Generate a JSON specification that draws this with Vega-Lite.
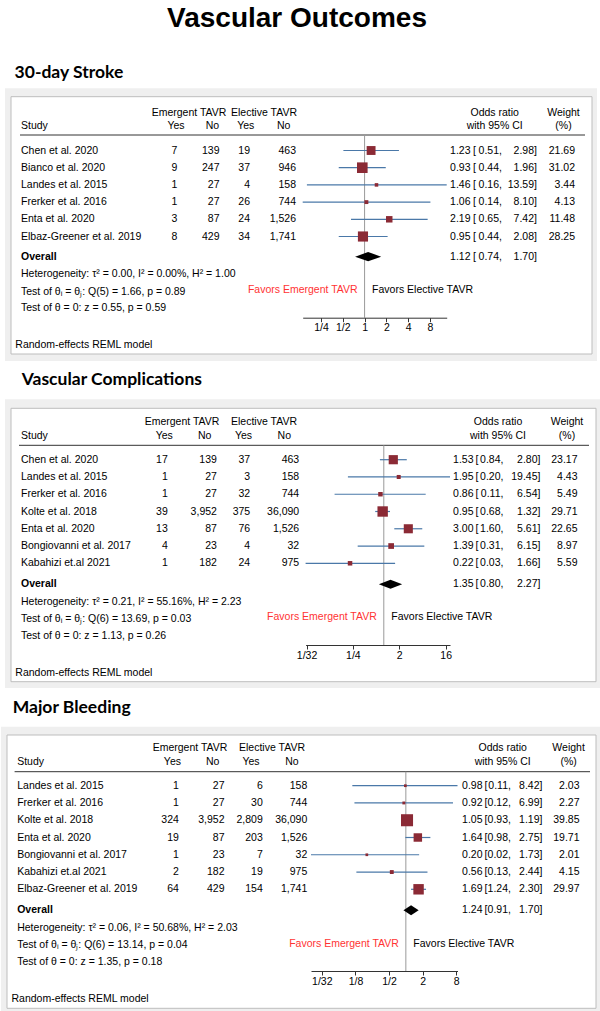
{
"$schema":"https://vega.github.io/schema/vega-lite/v6.json",
"padding":0,"autosize":{"type":"pad"},"background":"white","spacing":0,
"config":{"view":{"stroke":null},"text":{"font":"Liberation Sans","fontSize":10.5,"baseline":"middle","color":"#000000"}},
"datasets":{
"one":[{}],
"s1":[
{"study":"Chen et al. 2020","ey":7,"en":139,"cy":19,"cn":463,"or":1.23,"lo":0.51,"hi":2.98,"w":21.69},
{"study":"Bianco et al. 2020","ey":9,"en":247,"cy":37,"cn":946,"or":0.93,"lo":0.44,"hi":1.96,"w":31.02},
{"study":"Landes et al. 2015","ey":1,"en":27,"cy":4,"cn":158,"or":1.46,"lo":0.16,"hi":13.59,"w":3.44},
{"study":"Frerker et al. 2016","ey":1,"en":27,"cy":26,"cn":744,"or":1.06,"lo":0.14,"hi":8.10,"w":4.13},
{"study":"Enta et al. 2020","ey":3,"en":87,"cy":24,"cn":1526,"or":2.19,"lo":0.65,"hi":7.42,"w":11.48},
{"study":"Elbaz-Greener et al. 2019","ey":8,"en":429,"cy":34,"cn":1741,"or":0.95,"lo":0.44,"hi":2.08,"w":28.25}],
"o1":[{"or":1.12,"lo":0.74,"hi":1.70}],
"s2":[
{"study":"Chen et al. 2020","ey":17,"en":139,"cy":37,"cn":463,"or":1.53,"lo":0.84,"hi":2.80,"w":23.17},
{"study":"Landes et al. 2015","ey":1,"en":27,"cy":3,"cn":158,"or":1.95,"lo":0.20,"hi":19.45,"w":4.43},
{"study":"Frerker et al. 2016","ey":1,"en":27,"cy":32,"cn":744,"or":0.86,"lo":0.11,"hi":6.54,"w":5.49},
{"study":"Kolte et al. 2018","ey":39,"en":3952,"cy":375,"cn":36090,"or":0.95,"lo":0.68,"hi":1.32,"w":29.71},
{"study":"Enta et al. 2020","ey":13,"en":87,"cy":76,"cn":1526,"or":3.00,"lo":1.60,"hi":5.61,"w":22.65},
{"study":"Bongiovanni et al. 2017","ey":4,"en":23,"cy":4,"cn":32,"or":1.39,"lo":0.31,"hi":6.15,"w":8.97},
{"study":"Kabahizi et.al 2021","ey":1,"en":182,"cy":24,"cn":975,"or":0.22,"lo":0.03,"hi":1.66,"w":5.59}],
"o2":[{"or":1.35,"lo":0.80,"hi":2.27}],
"s3":[
{"study":"Landes et al. 2015","ey":1,"en":27,"cy":6,"cn":158,"or":0.98,"lo":0.11,"hi":8.42,"w":2.03},
{"study":"Frerker et al. 2016","ey":1,"en":27,"cy":30,"cn":744,"or":0.92,"lo":0.12,"hi":6.99,"w":2.27},
{"study":"Kolte et al. 2018","ey":324,"en":3952,"cy":2809,"cn":36090,"or":1.05,"lo":0.93,"hi":1.19,"w":39.85},
{"study":"Enta et al. 2020","ey":19,"en":87,"cy":203,"cn":1526,"or":1.64,"lo":0.98,"hi":2.75,"w":19.71},
{"study":"Bongiovanni et al. 2017","ey":1,"en":23,"cy":7,"cn":32,"or":0.20,"lo":0.02,"hi":1.73,"w":2.01},
{"study":"Kabahizi et.al 2021","ey":2,"en":182,"cy":19,"cn":975,"or":0.56,"lo":0.13,"hi":2.44,"w":4.15},
{"study":"Elbaz-Greener et al. 2019","ey":64,"en":429,"cy":154,"cn":1741,"or":1.69,"lo":1.24,"hi":2.30,"w":29.97}],
"o3":[{"or":1.24,"lo":0.91,"hi":1.70}]
},
"vconcat":[
{
"width":600,"height":361,
"resolve":{"scale":{"x":"independent","y":"independent"}},
"layer":[
{"data":{"name":"one"},"layer":[
{"mark":{"type":"rect","fill":"#efefef"},"encoding":{"x":{"datum":5,"type":"quantitative","scale":{"type":"linear","domain":[0,600],"range":[0,600],"nice":false,"zero":false},"axis":null},"x2":{"datum":597},"y":{"datum":88.3,"type":"quantitative","scale":{"type":"linear","domain":[0,361],"range":[0,361],"nice":false,"zero":false},"axis":null},"y2":{"datum":361}}},
{"mark":{"type":"rect","fill":"#ffffff","stroke":"#bdbdbd","strokeWidth":1},"encoding":{"x":{"datum":11,"type":"quantitative","axis":null},"x2":{"datum":592},"y":{"datum":96.7,"type":"quantitative","axis":null},"y2":{"datum":354}}},
{"mark":{"type":"text","text":"Vascular Outcomes","align":"center","baseline":"alphabetic","fontSize":28,"fontWeight":"bold","font":"Liberation Sans"},"encoding":{"x":{"datum":297,"type":"quantitative","axis":null},"y":{"datum":26.7,"type":"quantitative","axis":null}}},
{"mark":{"type":"text","text":"30-day Stroke","align":"left","baseline":"alphabetic","fontSize":17.5,"fontWeight":"bold","font":"Lato"},"encoding":{"x":{"datum":14.6,"type":"quantitative","axis":null},"y":{"datum":77.7,"type":"quantitative","axis":null}}},
{"mark":{"type":"text","text":"Emergent TAVR","align":"center"},"encoding":{"x":{"datum":189,"type":"quantitative","axis":null},"y":{"datum":112.7,"type":"quantitative","axis":null}}},
{"mark":{"type":"text","text":"Elective TAVR","align":"center"},"encoding":{"x":{"datum":264,"type":"quantitative","axis":null},"y":{"datum":112.7,"type":"quantitative","axis":null}}},
{"mark":{"type":"text","text":"Odds ratio","align":"center"},"encoding":{"x":{"datum":494.7,"type":"quantitative","axis":null},"y":{"datum":112.7,"type":"quantitative","axis":null}}},
{"mark":{"type":"text","text":"Weight","align":"center"},"encoding":{"x":{"datum":563.5,"type":"quantitative","axis":null},"y":{"datum":112.7,"type":"quantitative","axis":null}}},
{"mark":{"type":"text","text":"Study","align":"left"},"encoding":{"x":{"datum":21,"type":"quantitative","axis":null},"y":{"datum":126,"type":"quantitative","axis":null}}},
{"mark":{"type":"text","text":"Yes","align":"center"},"encoding":{"x":{"datum":176,"type":"quantitative","axis":null},"y":{"datum":126,"type":"quantitative","axis":null}}},
{"mark":{"type":"text","text":"No","align":"center"},"encoding":{"x":{"datum":212.5,"type":"quantitative","axis":null},"y":{"datum":126,"type":"quantitative","axis":null}}},
{"mark":{"type":"text","text":"Yes","align":"center"},"encoding":{"x":{"datum":245.8,"type":"quantitative","axis":null},"y":{"datum":126,"type":"quantitative","axis":null}}},
{"mark":{"type":"text","text":"No","align":"center"},"encoding":{"x":{"datum":283.7,"type":"quantitative","axis":null},"y":{"datum":126,"type":"quantitative","axis":null}}},
{"mark":{"type":"text","text":"with 95% CI","align":"center"},"encoding":{"x":{"datum":494.7,"type":"quantitative","axis":null},"y":{"datum":126,"type":"quantitative","axis":null}}},
{"mark":{"type":"text","text":"(%)","align":"center"},"encoding":{"x":{"datum":563.5,"type":"quantitative","axis":null},"y":{"datum":126,"type":"quantitative","axis":null}}},
{"mark":{"type":"rule","color":"#333333","strokeWidth":1},"encoding":{"x":{"datum":20,"type":"quantitative","axis":null},"x2":{"datum":585},"y":{"datum":135,"type":"quantitative","axis":null}}},
{"mark":{"type":"text","text":"Overall","align":"left","fontWeight":"bold"},"encoding":{"x":{"datum":21,"type":"quantitative","axis":null},"y":{"datum":256.7,"type":"quantitative","axis":null}}},
{"data":{"name":"o1"},"mark":{"type":"text","align":"right"},"encoding":{"x":{"datum":470.5,"type":"quantitative","axis":null},"y":{"datum":256.7,"type":"quantitative","axis":null},"text":{"field":"or","type":"quantitative","format":".2f"}}},
{"mark":{"type":"text","text":"[","align":"left"},"encoding":{"x":{"datum":473,"type":"quantitative","axis":null},"y":{"datum":256.7,"type":"quantitative","axis":null}}},
{"data":{"name":"o1"},"mark":{"type":"text","align":"right"},"encoding":{"x":{"datum":499,"type":"quantitative","axis":null},"y":{"datum":256.7,"type":"quantitative","axis":null},"text":{"field":"lo","type":"quantitative","format":".2f"}}},
{"mark":{"type":"text","text":",","align":"left"},"encoding":{"x":{"datum":499,"type":"quantitative","axis":null},"y":{"datum":256.7,"type":"quantitative","axis":null}}},
{"data":{"name":"o1"},"mark":{"type":"text","align":"right"},"encoding":{"x":{"datum":534,"type":"quantitative","axis":null},"y":{"datum":256.7,"type":"quantitative","axis":null},"text":{"field":"hi","type":"quantitative","format":".2f"}}},
{"mark":{"type":"text","text":"]","align":"left"},"encoding":{"x":{"datum":534,"type":"quantitative","axis":null},"y":{"datum":256.7,"type":"quantitative","axis":null}}},
{"mark":{"type":"text","text":"Heterogeneity: τ² = 0.00, I² = 0.00%, H² = 1.00","align":"left"},"encoding":{"x":{"datum":21,"type":"quantitative","axis":null},"y":{"datum":274.3,"type":"quantitative","axis":null}}},
{"mark":{"type":"text","text":"Test of θᵢ = θⱼ: Q(5) = 1.66, p = 0.89","align":"left"},"encoding":{"x":{"datum":21,"type":"quantitative","axis":null},"y":{"datum":292,"type":"quantitative","axis":null}}},
{"mark":{"type":"text","text":"Test of θ = 0: z = 0.55, p = 0.59","align":"left"},"encoding":{"x":{"datum":21,"type":"quantitative","axis":null},"y":{"datum":308.3,"type":"quantitative","axis":null}}},
{"mark":{"type":"text","text":"Random-effects REML model","align":"left"},"encoding":{"x":{"datum":15.3,"type":"quantitative","axis":null},"y":{"datum":345,"type":"quantitative","axis":null}}}
]},
{"data":{"name":"one"},"layer":[
{"mark":{"type":"rule","color":"#999999","strokeWidth":1},"encoding":{"x":{"datum":1,"type":"quantitative","scale":{"type":"log","base":2,"domain":[0.14,13.59],"range":[302.7,446.7],"nice":false},"axis":{"orient":"bottom","offset":-43.3,"zindex":2,"values":[0.25,0.5,1,2,4,8],"labelExpr":"datum.value < 1 ? '1/' + format(1/datum.value,'d') : format(datum.value,'d')","title":null,"grid":false,"domainColor":"#333333","tickColor":"#333333","tickSize":4,"labelFontSize":10.5,"labelFont":"Liberation Sans","labelColor":"#000000","labelPadding":1,"labelFlush":false,"labelOverlap":false,"labelBound":false}},"y":{"datum":135,"type":"quantitative","scale":{"type":"linear","domain":[0,361],"range":[0,361],"nice":false,"zero":false},"axis":null},"y2":{"datum":317.7}}},
{"data":{"name":"o1"},"mark":{"type":"point","shape":"M-1,0L0,-0.356L1,0L0,0.356Z","filled":true,"color":"#000000","opacity":1,"size":681},"encoding":{"x":{"field":"or","type":"quantitative"},"y":{"datum":256.7,"type":"quantitative","axis":null}}},
{"mark":{"type":"text","text":"Favors Emergent TAVR","align":"right","dx":-7,"color":"#ff3333"},"encoding":{"x":{"datum":1,"type":"quantitative"},"y":{"datum":290,"type":"quantitative","axis":null}}},
{"mark":{"type":"text","text":"Favors Elective TAVR","align":"left","dx":7.5},"encoding":{"x":{"datum":1,"type":"quantitative"},"y":{"datum":290,"type":"quantitative","axis":null}}}
]},
{"data":{"name":"s1"},"encoding":{"y":{"field":"study","type":"nominal","sort":null,"scale":{"type":"point","range":[150.5,236.5],"padding":0},"axis":null}},"layer":[
{"mark":{"type":"text","align":"left"},"encoding":{"x":{"datum":21,"type":"quantitative","scale":{"type":"linear","domain":[0,600],"range":[0,600],"nice":false,"zero":false},"axis":null},"text":{"field":"study","type":"nominal"}}},
{"mark":{"type":"text","align":"right"},"encoding":{"x":{"datum":177.4,"type":"quantitative","axis":null},"text":{"field":"ey","type":"quantitative","format":",d"}}},
{"mark":{"type":"text","align":"right"},"encoding":{"x":{"datum":219.5,"type":"quantitative","axis":null},"text":{"field":"en","type":"quantitative","format":",d"}}},
{"mark":{"type":"text","align":"right"},"encoding":{"x":{"datum":250,"type":"quantitative","axis":null},"text":{"field":"cy","type":"quantitative","format":",d"}}},
{"mark":{"type":"text","align":"right"},"encoding":{"x":{"datum":296,"type":"quantitative","axis":null},"text":{"field":"cn","type":"quantitative","format":",d"}}},
{"mark":{"type":"text","align":"right"},"encoding":{"x":{"datum":470.5,"type":"quantitative","axis":null},"text":{"field":"or","type":"quantitative","format":".2f"}}},
{"mark":{"type":"text","align":"left","text":"["},"encoding":{"x":{"datum":473,"type":"quantitative","axis":null}}},
{"mark":{"type":"text","align":"right"},"encoding":{"x":{"datum":499,"type":"quantitative","axis":null},"text":{"field":"lo","type":"quantitative","format":".2f"}}},
{"mark":{"type":"text","align":"left","text":","},"encoding":{"x":{"datum":499,"type":"quantitative","axis":null}}},
{"mark":{"type":"text","align":"right"},"encoding":{"x":{"datum":534,"type":"quantitative","axis":null},"text":{"field":"hi","type":"quantitative","format":".2f"}}},
{"mark":{"type":"text","align":"left","text":"]"},"encoding":{"x":{"datum":534,"type":"quantitative","axis":null}}},
{"mark":{"type":"text","align":"right"},"encoding":{"x":{"datum":575,"type":"quantitative","axis":null},"text":{"field":"w","type":"quantitative","format":".2f"}}}
]},
{"data":{"name":"s1"},"encoding":{"y":{"field":"study","type":"nominal","sort":null,"scale":{"type":"point","range":[150.5,236.5],"padding":0},"axis":null}},"layer":[
{"mark":{"type":"rule","color":"#4a78a8","strokeWidth":1.2},"encoding":{"x":{"field":"lo","type":"quantitative","scale":{"type":"log","base":2,"domain":[0.14,13.59],"range":[302.7,446.7],"nice":false},"axis":null},"x2":{"field":"hi"}}},
{"mark":{"type":"point","shape":"square","filled":true,"color":"#8b2a35","opacity":1},"encoding":{"x":{"field":"or","type":"quantitative","axis":null},"size":{"field":"w","type":"quantitative","scale":{"range":[0,145],"zero":true,"nice":false},"legend":null}}}
]}
]},
{
"width":600,"height":327,
"resolve":{"scale":{"x":"independent","y":"independent"}},
"layer":[
{"data":{"name":"one"},"layer":[
{"mark":{"type":"rect","fill":"#efefef"},"encoding":{"x":{"datum":5,"type":"quantitative","scale":{"type":"linear","domain":[0,600],"range":[0,600],"nice":false,"zero":false},"axis":null},"x2":{"datum":600},"y":{"datum":399.3,"type":"quantitative","scale":{"type":"linear","domain":[361,688],"range":[0,327],"nice":false,"zero":false},"axis":null},"y2":{"datum":688}}},
{"mark":{"type":"rect","fill":"#ffffff","stroke":"#bdbdbd","strokeWidth":1},"encoding":{"x":{"datum":11,"type":"quantitative","axis":null},"x2":{"datum":596},"y":{"datum":408.3,"type":"quantitative","axis":null},"y2":{"datum":681.7}}},
{"mark":{"type":"text","text":"Vascular Complications","align":"left","baseline":"alphabetic","fontSize":17.5,"fontWeight":"bold","font":"Lato"},"encoding":{"x":{"datum":21.7,"type":"quantitative","axis":null},"y":{"datum":385,"type":"quantitative","axis":null}}},
{"mark":{"type":"text","text":"Emergent TAVR","align":"center"},"encoding":{"x":{"datum":182,"type":"quantitative","axis":null},"y":{"datum":422.3,"type":"quantitative","axis":null}}},
{"mark":{"type":"text","text":"Elective TAVR","align":"center"},"encoding":{"x":{"datum":264,"type":"quantitative","axis":null},"y":{"datum":422.3,"type":"quantitative","axis":null}}},
{"mark":{"type":"text","text":"Odds ratio","align":"center"},"encoding":{"x":{"datum":498,"type":"quantitative","axis":null},"y":{"datum":422.3,"type":"quantitative","axis":null}}},
{"mark":{"type":"text","text":"Weight","align":"center"},"encoding":{"x":{"datum":567,"type":"quantitative","axis":null},"y":{"datum":422.3,"type":"quantitative","axis":null}}},
{"mark":{"type":"text","text":"Study","align":"left"},"encoding":{"x":{"datum":21,"type":"quantitative","axis":null},"y":{"datum":436,"type":"quantitative","axis":null}}},
{"mark":{"type":"text","text":"Yes","align":"center"},"encoding":{"x":{"datum":164.2,"type":"quantitative","axis":null},"y":{"datum":436,"type":"quantitative","axis":null}}},
{"mark":{"type":"text","text":"No","align":"center"},"encoding":{"x":{"datum":204.6,"type":"quantitative","axis":null},"y":{"datum":436,"type":"quantitative","axis":null}}},
{"mark":{"type":"text","text":"Yes","align":"center"},"encoding":{"x":{"datum":243.5,"type":"quantitative","axis":null},"y":{"datum":436,"type":"quantitative","axis":null}}},
{"mark":{"type":"text","text":"No","align":"center"},"encoding":{"x":{"datum":284.3,"type":"quantitative","axis":null},"y":{"datum":436,"type":"quantitative","axis":null}}},
{"mark":{"type":"text","text":"with 95% CI","align":"center"},"encoding":{"x":{"datum":498,"type":"quantitative","axis":null},"y":{"datum":436,"type":"quantitative","axis":null}}},
{"mark":{"type":"text","text":"(%)","align":"center"},"encoding":{"x":{"datum":567,"type":"quantitative","axis":null},"y":{"datum":436,"type":"quantitative","axis":null}}},
{"mark":{"type":"rule","color":"#333333","strokeWidth":1},"encoding":{"x":{"datum":19,"type":"quantitative","axis":null},"x2":{"datum":589},"y":{"datum":445.3,"type":"quantitative","axis":null}}},
{"mark":{"type":"text","text":"Overall","align":"left","fontWeight":"bold"},"encoding":{"x":{"datum":21,"type":"quantitative","axis":null},"y":{"datum":584.3,"type":"quantitative","axis":null}}},
{"data":{"name":"o2"},"mark":{"type":"text","align":"right"},"encoding":{"x":{"datum":473.5,"type":"quantitative","axis":null},"y":{"datum":584.3,"type":"quantitative","axis":null},"text":{"field":"or","type":"quantitative","format":".2f"}}},
{"mark":{"type":"text","text":"[","align":"left"},"encoding":{"x":{"datum":475.5,"type":"quantitative","axis":null},"y":{"datum":584.3,"type":"quantitative","axis":null}}},
{"data":{"name":"o2"},"mark":{"type":"text","align":"right"},"encoding":{"x":{"datum":500.5,"type":"quantitative","axis":null},"y":{"datum":584.3,"type":"quantitative","axis":null},"text":{"field":"lo","type":"quantitative","format":".2f"}}},
{"mark":{"type":"text","text":",","align":"left"},"encoding":{"x":{"datum":500.5,"type":"quantitative","axis":null},"y":{"datum":584.3,"type":"quantitative","axis":null}}},
{"data":{"name":"o2"},"mark":{"type":"text","align":"right"},"encoding":{"x":{"datum":537.5,"type":"quantitative","axis":null},"y":{"datum":584.3,"type":"quantitative","axis":null},"text":{"field":"hi","type":"quantitative","format":".2f"}}},
{"mark":{"type":"text","text":"]","align":"left"},"encoding":{"x":{"datum":537.5,"type":"quantitative","axis":null},"y":{"datum":584.3,"type":"quantitative","axis":null}}},
{"mark":{"type":"text","text":"Heterogeneity: τ² = 0.21, I² = 55.16%, H² = 2.23","align":"left"},"encoding":{"x":{"datum":21,"type":"quantitative","axis":null},"y":{"datum":602,"type":"quantitative","axis":null}}},
{"mark":{"type":"text","text":"Test of θᵢ = θⱼ: Q(6) = 13.69, p = 0.03","align":"left"},"encoding":{"x":{"datum":21,"type":"quantitative","axis":null},"y":{"datum":619,"type":"quantitative","axis":null}}},
{"mark":{"type":"text","text":"Test of θ = 0: z = 1.13, p = 0.26","align":"left"},"encoding":{"x":{"datum":21,"type":"quantitative","axis":null},"y":{"datum":636.3,"type":"quantitative","axis":null}}},
{"mark":{"type":"text","text":"Random-effects REML model","align":"left"},"encoding":{"x":{"datum":15.3,"type":"quantitative","axis":null},"y":{"datum":672.7,"type":"quantitative","axis":null}}}
]},
{"data":{"name":"one"},"layer":[
{"mark":{"type":"rule","color":"#999999","strokeWidth":1},"encoding":{"x":{"datum":1,"type":"quantitative","scale":{"type":"log","base":2,"domain":[0.03,19.45],"range":[305.6,450],"nice":false},"axis":{"orient":"bottom","offset":-43,"zindex":2,"values":[0.03125,0.25,2,16],"labelExpr":"datum.value < 1 ? '1/' + format(1/datum.value,'d') : format(datum.value,'d')","title":null,"grid":false,"domainColor":"#333333","tickColor":"#333333","tickSize":4,"labelFontSize":10.5,"labelFont":"Liberation Sans","labelColor":"#000000","labelPadding":1,"labelFlush":false,"labelOverlap":false,"labelBound":false}},"y":{"datum":445.3,"type":"quantitative","scale":{"type":"linear","domain":[361,688],"range":[0,327],"nice":false,"zero":false},"axis":null},"y2":{"datum":645}}},
{"data":{"name":"o2"},"mark":{"type":"point","shape":"M-1,0L0,-0.386L1,0L0,0.386Z","filled":true,"color":"#000000","opacity":1,"size":543},"encoding":{"x":{"field":"or","type":"quantitative"},"y":{"datum":584.3,"type":"quantitative","axis":null}}},
{"mark":{"type":"text","text":"Favors Emergent TAVR","align":"right","dx":-7,"color":"#ff3333"},"encoding":{"x":{"datum":1,"type":"quantitative"},"y":{"datum":617,"type":"quantitative","axis":null}}},
{"mark":{"type":"text","text":"Favors Elective TAVR","align":"left","dx":7.5},"encoding":{"x":{"datum":1,"type":"quantitative"},"y":{"datum":617,"type":"quantitative","axis":null}}}
]},
{"data":{"name":"s2"},"encoding":{"y":{"field":"study","type":"nominal","sort":null,"scale":{"type":"point","range":[98.7,202.3],"padding":0},"axis":null}},"layer":[
{"mark":{"type":"text","align":"left"},"encoding":{"x":{"datum":21,"type":"quantitative","scale":{"type":"linear","domain":[0,600],"range":[0,600],"nice":false,"zero":false},"axis":null},"text":{"field":"study","type":"nominal"}}},
{"mark":{"type":"text","align":"right"},"encoding":{"x":{"datum":167.8,"type":"quantitative","axis":null},"text":{"field":"ey","type":"quantitative","format":",d"}}},
{"mark":{"type":"text","align":"right"},"encoding":{"x":{"datum":216.9,"type":"quantitative","axis":null},"text":{"field":"en","type":"quantitative","format":",d"}}},
{"mark":{"type":"text","align":"right"},"encoding":{"x":{"datum":250.2,"type":"quantitative","axis":null},"text":{"field":"cy","type":"quantitative","format":",d"}}},
{"mark":{"type":"text","align":"right"},"encoding":{"x":{"datum":299.2,"type":"quantitative","axis":null},"text":{"field":"cn","type":"quantitative","format":",d"}}},
{"mark":{"type":"text","align":"right"},"encoding":{"x":{"datum":473.5,"type":"quantitative","axis":null},"text":{"field":"or","type":"quantitative","format":".2f"}}},
{"mark":{"type":"text","align":"left","text":"["},"encoding":{"x":{"datum":475.5,"type":"quantitative","axis":null}}},
{"mark":{"type":"text","align":"right"},"encoding":{"x":{"datum":500.5,"type":"quantitative","axis":null},"text":{"field":"lo","type":"quantitative","format":".2f"}}},
{"mark":{"type":"text","align":"left","text":","},"encoding":{"x":{"datum":500.5,"type":"quantitative","axis":null}}},
{"mark":{"type":"text","align":"right"},"encoding":{"x":{"datum":537.5,"type":"quantitative","axis":null},"text":{"field":"hi","type":"quantitative","format":".2f"}}},
{"mark":{"type":"text","align":"left","text":"]"},"encoding":{"x":{"datum":537.5,"type":"quantitative","axis":null}}},
{"mark":{"type":"text","align":"right"},"encoding":{"x":{"datum":577.5,"type":"quantitative","axis":null},"text":{"field":"w","type":"quantitative","format":".2f"}}}
]},
{"data":{"name":"s2"},"encoding":{"y":{"field":"study","type":"nominal","sort":null,"scale":{"type":"point","range":[98.7,202.3],"padding":0},"axis":null}},"layer":[
{"mark":{"type":"rule","color":"#4a78a8","strokeWidth":1.2},"encoding":{"x":{"field":"lo","type":"quantitative","scale":{"type":"log","base":2,"domain":[0.03,19.45],"range":[305.6,450],"nice":false},"axis":null},"x2":{"field":"hi"}}},
{"mark":{"type":"point","shape":"square","filled":true,"color":"#8b2a35","opacity":1},"encoding":{"x":{"field":"or","type":"quantitative","axis":null},"size":{"field":"w","type":"quantitative","scale":{"range":[0,148],"zero":true,"nice":false},"legend":null}}}
]}
]},
{
"width":600,"height":323,
"resolve":{"scale":{"x":"independent","y":"independent"}},
"layer":[
{"data":{"name":"one"},"layer":[
{"mark":{"type":"rect","fill":"#efefef"},"encoding":{"x":{"datum":1,"type":"quantitative","scale":{"type":"linear","domain":[0,600],"range":[0,600],"nice":false,"zero":false},"axis":null},"x2":{"datum":600},"y":{"datum":726.7,"type":"quantitative","scale":{"type":"linear","domain":[688,1011],"range":[0,323],"nice":false,"zero":false},"axis":null},"y2":{"datum":1011}}},
{"mark":{"type":"rect","fill":"#ffffff","stroke":"#bdbdbd","strokeWidth":1},"encoding":{"x":{"datum":7,"type":"quantitative","axis":null},"x2":{"datum":596},"y":{"datum":735,"type":"quantitative","axis":null},"y2":{"datum":1008.3}}},
{"mark":{"type":"text","text":"Major Bleeding","align":"left","baseline":"alphabetic","fontSize":17.5,"fontWeight":"bold","font":"Lato"},"encoding":{"x":{"datum":12.7,"type":"quantitative","axis":null},"y":{"datum":713.3,"type":"quantitative","axis":null}}},
{"mark":{"type":"text","text":"Emergent TAVR","align":"center"},"encoding":{"x":{"datum":190,"type":"quantitative","axis":null},"y":{"datum":748.3,"type":"quantitative","axis":null}}},
{"mark":{"type":"text","text":"Elective TAVR","align":"center"},"encoding":{"x":{"datum":272,"type":"quantitative","axis":null},"y":{"datum":748.3,"type":"quantitative","axis":null}}},
{"mark":{"type":"text","text":"Odds ratio","align":"center"},"encoding":{"x":{"datum":502.7,"type":"quantitative","axis":null},"y":{"datum":748.3,"type":"quantitative","axis":null}}},
{"mark":{"type":"text","text":"Weight","align":"center"},"encoding":{"x":{"datum":568.6,"type":"quantitative","axis":null},"y":{"datum":748.3,"type":"quantitative","axis":null}}},
{"mark":{"type":"text","text":"Study","align":"left"},"encoding":{"x":{"datum":17.2,"type":"quantitative","axis":null},"y":{"datum":762,"type":"quantitative","axis":null}}},
{"mark":{"type":"text","text":"Yes","align":"center"},"encoding":{"x":{"datum":172.4,"type":"quantitative","axis":null},"y":{"datum":762,"type":"quantitative","axis":null}}},
{"mark":{"type":"text","text":"No","align":"center"},"encoding":{"x":{"datum":212.6,"type":"quantitative","axis":null},"y":{"datum":762,"type":"quantitative","axis":null}}},
{"mark":{"type":"text","text":"Yes","align":"center"},"encoding":{"x":{"datum":251,"type":"quantitative","axis":null},"y":{"datum":762,"type":"quantitative","axis":null}}},
{"mark":{"type":"text","text":"No","align":"center"},"encoding":{"x":{"datum":292,"type":"quantitative","axis":null},"y":{"datum":762,"type":"quantitative","axis":null}}},
{"mark":{"type":"text","text":"with 95% CI","align":"center"},"encoding":{"x":{"datum":502.7,"type":"quantitative","axis":null},"y":{"datum":762,"type":"quantitative","axis":null}}},
{"mark":{"type":"text","text":"(%)","align":"center"},"encoding":{"x":{"datum":568.6,"type":"quantitative","axis":null},"y":{"datum":762,"type":"quantitative","axis":null}}},
{"mark":{"type":"rule","color":"#333333","strokeWidth":1},"encoding":{"x":{"datum":14.6,"type":"quantitative","axis":null},"x2":{"datum":590},"y":{"datum":771.7,"type":"quantitative","axis":null}}},
{"mark":{"type":"text","text":"Overall","align":"left","fontWeight":"bold"},"encoding":{"x":{"datum":17.2,"type":"quantitative","axis":null},"y":{"datum":910.3,"type":"quantitative","axis":null}}},
{"data":{"name":"o3"},"mark":{"type":"text","align":"right"},"encoding":{"x":{"datum":482.5,"type":"quantitative","axis":null},"y":{"datum":910.3,"type":"quantitative","axis":null},"text":{"field":"or","type":"quantitative","format":".2f"}}},
{"mark":{"type":"text","text":"[","align":"left"},"encoding":{"x":{"datum":484.5,"type":"quantitative","axis":null},"y":{"datum":910.3,"type":"quantitative","axis":null}}},
{"data":{"name":"o3"},"mark":{"type":"text","align":"right"},"encoding":{"x":{"datum":508,"type":"quantitative","axis":null},"y":{"datum":910.3,"type":"quantitative","axis":null},"text":{"field":"lo","type":"quantitative","format":".2f"}}},
{"mark":{"type":"text","text":",","align":"left"},"encoding":{"x":{"datum":508,"type":"quantitative","axis":null},"y":{"datum":910.3,"type":"quantitative","axis":null}}},
{"data":{"name":"o3"},"mark":{"type":"text","align":"right"},"encoding":{"x":{"datum":539.5,"type":"quantitative","axis":null},"y":{"datum":910.3,"type":"quantitative","axis":null},"text":{"field":"hi","type":"quantitative","format":".2f"}}},
{"mark":{"type":"text","text":"]","align":"left"},"encoding":{"x":{"datum":539.5,"type":"quantitative","axis":null},"y":{"datum":910.3,"type":"quantitative","axis":null}}},
{"mark":{"type":"text","text":"Heterogeneity: τ² = 0.06, I² = 50.68%, H² = 2.03","align":"left"},"encoding":{"x":{"datum":17.2,"type":"quantitative","axis":null},"y":{"datum":927.7,"type":"quantitative","axis":null}}},
{"mark":{"type":"text","text":"Test of θᵢ = θⱼ: Q(6) = 13.14, p = 0.04","align":"left"},"encoding":{"x":{"datum":17.2,"type":"quantitative","axis":null},"y":{"datum":945,"type":"quantitative","axis":null}}},
{"mark":{"type":"text","text":"Test of θ = 0: z = 1.35, p = 0.18","align":"left"},"encoding":{"x":{"datum":17.2,"type":"quantitative","axis":null},"y":{"datum":962.3,"type":"quantitative","axis":null}}},
{"mark":{"type":"text","text":"Random-effects REML model","align":"left"},"encoding":{"x":{"datum":11.5,"type":"quantitative","axis":null},"y":{"datum":999,"type":"quantitative","axis":null}}}
]},
{"data":{"name":"one"},"layer":[
{"mark":{"type":"rule","color":"#999999","strokeWidth":1},"encoding":{"x":{"datum":1,"type":"quantitative","scale":{"type":"log","base":2,"domain":[0.02,8.42],"range":[311,457.5],"nice":false},"axis":{"orient":"bottom","offset":-40,"zindex":2,"values":[0.03125,0.125,0.5,2,8],"labelExpr":"datum.value < 1 ? '1/' + format(1/datum.value,'d') : format(datum.value,'d')","title":null,"grid":false,"domainColor":"#333333","tickColor":"#333333","tickSize":4,"labelFontSize":10.5,"labelFont":"Liberation Sans","labelColor":"#000000","labelPadding":1,"labelFlush":false,"labelOverlap":false,"labelBound":false}},"y":{"datum":771.7,"type":"quantitative","scale":{"type":"linear","domain":[688,1011],"range":[0,323],"nice":false,"zero":false},"axis":null},"y2":{"datum":971}}},
{"data":{"name":"o3"},"mark":{"type":"point","shape":"M-1,0L0,-0.658L1,0L0,0.658Z","filled":true,"color":"#000000","opacity":1,"size":231},"encoding":{"x":{"field":"or","type":"quantitative"},"y":{"datum":910.3,"type":"quantitative","axis":null}}},
{"mark":{"type":"text","text":"Favors Emergent TAVR","align":"right","dx":-7,"color":"#ff3333"},"encoding":{"x":{"datum":1,"type":"quantitative"},"y":{"datum":943.5,"type":"quantitative","axis":null}}},
{"mark":{"type":"text","text":"Favors Elective TAVR","align":"left","dx":7.5},"encoding":{"x":{"datum":1,"type":"quantitative"},"y":{"datum":943.5,"type":"quantitative","axis":null}}}
]},
{"data":{"name":"s3"},"encoding":{"y":{"field":"study","type":"nominal","sort":null,"scale":{"type":"point","range":[97.7,201.3],"padding":0},"axis":null}},"layer":[
{"mark":{"type":"text","align":"left"},"encoding":{"x":{"datum":17.2,"type":"quantitative","scale":{"type":"linear","domain":[0,600],"range":[0,600],"nice":false,"zero":false},"axis":null},"text":{"field":"study","type":"nominal"}}},
{"mark":{"type":"text","align":"right"},"encoding":{"x":{"datum":178.9,"type":"quantitative","axis":null},"text":{"field":"ey","type":"quantitative","format":",d"}}},
{"mark":{"type":"text","align":"right"},"encoding":{"x":{"datum":224.5,"type":"quantitative","axis":null},"text":{"field":"en","type":"quantitative","format":",d"}}},
{"mark":{"type":"text","align":"right"},"encoding":{"x":{"datum":262.8,"type":"quantitative","axis":null},"text":{"field":"cy","type":"quantitative","format":",d"}}},
{"mark":{"type":"text","align":"right"},"encoding":{"x":{"datum":307.3,"type":"quantitative","axis":null},"text":{"field":"cn","type":"quantitative","format":",d"}}},
{"mark":{"type":"text","align":"right"},"encoding":{"x":{"datum":482.5,"type":"quantitative","axis":null},"text":{"field":"or","type":"quantitative","format":".2f"}}},
{"mark":{"type":"text","align":"left","text":"["},"encoding":{"x":{"datum":484.5,"type":"quantitative","axis":null}}},
{"mark":{"type":"text","align":"right"},"encoding":{"x":{"datum":508,"type":"quantitative","axis":null},"text":{"field":"lo","type":"quantitative","format":".2f"}}},
{"mark":{"type":"text","align":"left","text":","},"encoding":{"x":{"datum":508,"type":"quantitative","axis":null}}},
{"mark":{"type":"text","align":"right"},"encoding":{"x":{"datum":539.5,"type":"quantitative","axis":null},"text":{"field":"hi","type":"quantitative","format":".2f"}}},
{"mark":{"type":"text","align":"left","text":"]"},"encoding":{"x":{"datum":539.5,"type":"quantitative","axis":null}}},
{"mark":{"type":"text","align":"right"},"encoding":{"x":{"datum":579.5,"type":"quantitative","axis":null},"text":{"field":"w","type":"quantitative","format":".2f"}}}
]},
{"data":{"name":"s3"},"encoding":{"y":{"field":"study","type":"nominal","sort":null,"scale":{"type":"point","range":[97.7,201.3],"padding":0},"axis":null}},"layer":[
{"mark":{"type":"rule","color":"#4a78a8","strokeWidth":1.2},"encoding":{"x":{"field":"lo","type":"quantitative","scale":{"type":"log","base":2,"domain":[0.02,8.42],"range":[311,457.5],"nice":false},"axis":null},"x2":{"field":"hi"}}},
{"mark":{"type":"point","shape":"square","filled":true,"color":"#8b2a35","opacity":1},"encoding":{"x":{"field":"or","type":"quantitative","axis":null},"size":{"field":"w","type":"quantitative","scale":{"range":[0,157],"zero":true,"nice":false},"legend":null}}}
]}
]}
]
}
